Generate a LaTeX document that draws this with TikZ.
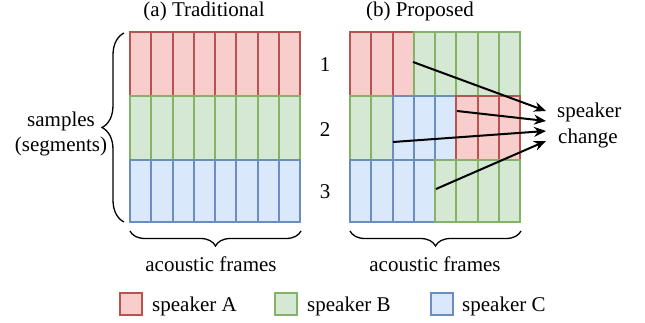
\documentclass[tikz,border=0pt]{standalone}
\usepackage{fontspec}
\setmainfont{Liberation Serif}
\usetikzlibrary{arrows.meta,decorations.pathreplacing}
\definecolor{rf}{HTML}{F8CECC}\definecolor{rs}{HTML}{B85450}
\definecolor{gf}{HTML}{D5E8D4}\definecolor{gs}{HTML}{82B366}
\definecolor{bf}{HTML}{DAE8FC}\definecolor{bs}{HTML}{6C8EBF}
\begin{document}
\begin{tikzpicture}[x=1pt,y=-1pt,
  font=\fontsize{21}{25}\selectfont,
  cellA/.style={fill=rf,draw=rs,line width=2pt},
  cellB/.style={fill=gf,draw=gs,line width=2pt},
  cellC/.style={fill=bf,draw=bs,line width=2pt},
  txt/.style={inner sep=0pt,anchor=base},
  txtw/.style={inner sep=0pt,anchor=base west},
  brc/.style={decorate,decoration={brace,amplitude=#1},line width=1.3pt},
  arr/.style={-{Stealth[length=12pt,width=10pt]},line width=2pt}]
\useasboundingbox (0,0) rectangle (645,323);
% titles
\node[txt] (ta) at (204,17) {(a) Traditional};
\node[txt] (tb) at (420,17) {(b) Proposed};
% traditional grid
\foreach \r/\s/\y in {0/A/32,1/B/96,2/C/160}{
  \foreach \i in {0,...,7}{
    \draw[cell\s] ({130+\i*21.25},\y) rectangle +(21.25,{\r==2 ? 62 : 64});
  }
}
% proposed grid
\foreach \s [count=\i from 0] in {A,A,A,B,B,B,B,B}
  \draw[cell\s] ({350+\i*21.25},32) rectangle +(21.25,64);
\foreach \s [count=\i from 0] in {B,B,C,C,C,A,A,A}
  \draw[cell\s] ({350+\i*21.25},96) rectangle +(21.25,64);
\foreach \s [count=\i from 0] in {C,C,C,C,B,B,B,B}
  \draw[cell\s] ({350+\i*21.25},160) rectangle +(21.25,62);
% row numbers
\node[txt] (n1) at (325,72) {1};
\node[txt] (n2) at (325,137) {2};
\node[txt] (n3) at (325,199) {3};
% speaker change
\node[txtw] (sc1) at (557,118) {speaker};
\node[txtw] (sc2) at (558,144) {change};
\coordinate (s1) at (413,62);
\coordinate (s2) at (457,111);
\coordinate (s3) at (393,142);
\coordinate (s4) at (436,189);
\coordinate (e1) at (546,111);
\coordinate (e2) at (546,121);
\coordinate (e3) at (546,131);
\coordinate (e4) at (546,141);
\draw[arr] (s1) -- (e1);
\draw[arr] (s2) -- (e2);
\draw[arr] (s3) -- (e3);
\draw[arr] (s4) -- (e4);
% left brace
\draw[brc=22pt] (124,222) -- (124,33);
\node[txt] (sm1) at (61,127) {samples};
\node[txt] (sm2) at (61,152) {(segments)};
% bottom braces
\draw[brc=15pt] (301,231) -- (130,231);
\draw[brc=15pt] (521,231) -- (350,231);
\node[txt] (af1) at (211,271) {acoustic frames};
\node[txt] (af2) at (435,271) {acoustic frames};
% legend
\draw[cellA] (120,293) rectangle +(22,22);
\node[txtw] (la) at (152,311) {speaker A};
\draw[cellB] (275,293) rectangle +(22,22);
\node[txtw] (lb) at (307,311) {speaker B};
\draw[cellC] (431,293) rectangle +(22,22);
\node[txtw] (lc) at (462,311) {speaker C};
\end{tikzpicture}
\end{document}
